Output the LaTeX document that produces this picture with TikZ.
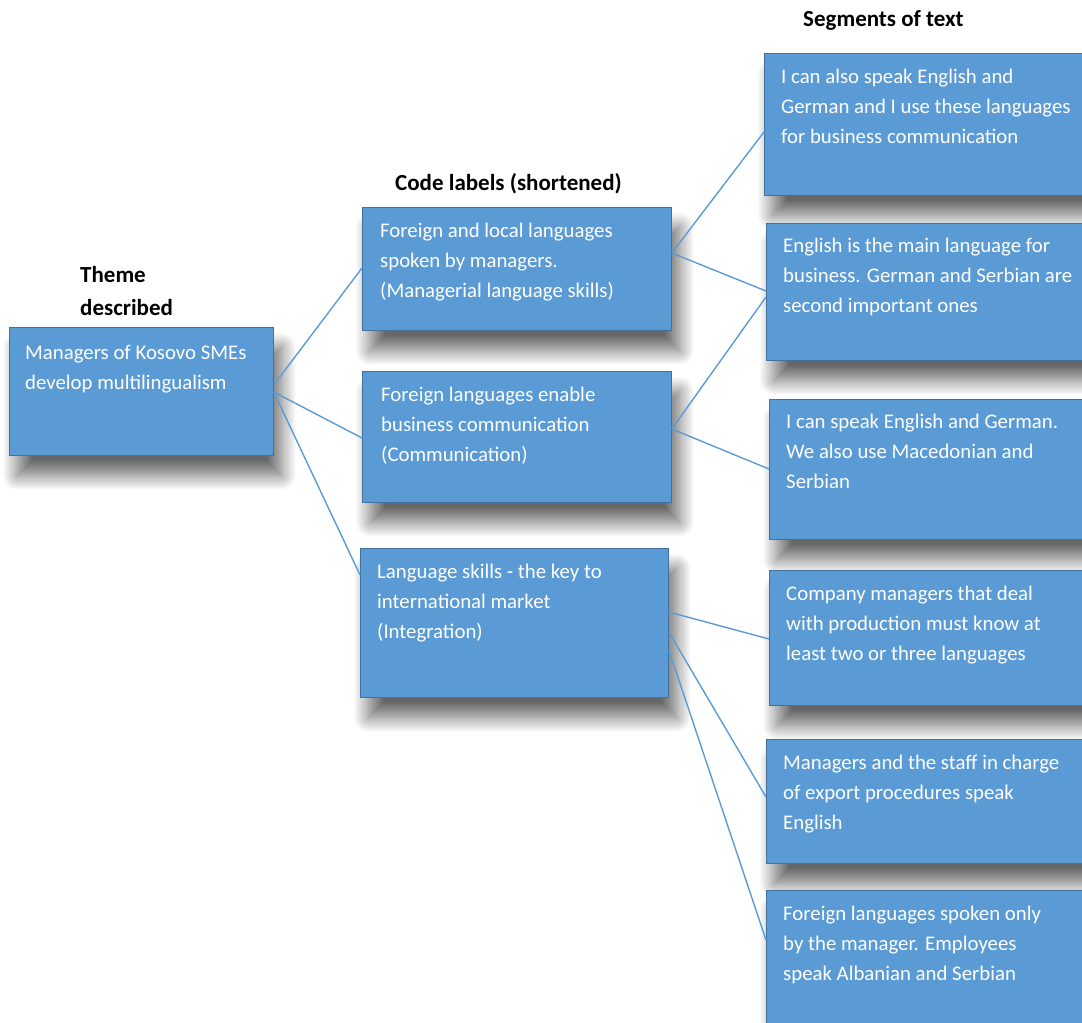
\documentclass[tikz,border=0pt]{standalone}
\usepackage{fontspec}
\setmainfont{Carlito}
\usetikzlibrary{shadows.blur}
\definecolor{boxfill}{HTML}{5B9BD5}
\definecolor{boxline}{HTML}{41719C}
\definecolor{connline}{HTML}{5B9BD5}
\begin{document}
\begin{tikzpicture}[x=1pt,y=-1pt,
  blockbox/.style={draw=boxline, line width=0.8pt, fill=boxfill, anchor=north west, inner sep=0pt,
    blur shadow={shadow xshift=8pt, shadow yshift=-20pt, shadow blur radius=15pt, shadow blur steps=30, shadow opacity=60}},
  boxtext/.style={anchor=north west, inner sep=0pt, text=white, align=left, font=\fontsize{20.8}{30}\selectfont},
  heading/.style={anchor=north west, inner sep=0pt, align=left, font=\bfseries\fontsize{23}{33}\selectfont},
  conn/.style={draw=connline, line width=1.4pt}]
\useasboundingbox (0,0) rectangle (1082,1023);

% boxes
\node[blockbox, minimum width=264pt, minimum height=128pt] (theme) at (9,327) {};
\node[blockbox, minimum width=309pt, minimum height=123pt] (code1) at (362,207) {};
\node[blockbox, minimum width=309pt, minimum height=131pt] (code2) at (362,371) {};
\node[blockbox, minimum width=308pt, minimum height=149pt] (code3) at (360,548) {};
\node[blockbox, minimum width=330pt, minimum height=142pt] (seg1) at (764,53) {};
\node[blockbox, minimum width=330pt, minimum height=137pt] (seg2) at (766,223) {};
\node[blockbox, minimum width=330pt, minimum height=140pt] (seg3) at (769,399) {};
\node[blockbox, minimum width=330pt, minimum height=135pt] (seg4) at (769,570) {};
\node[blockbox, minimum width=330pt, minimum height=124pt] (seg5) at (766,739) {};
\node[blockbox, minimum width=330pt, minimum height=150pt] (seg6) at (766,890) {};

% headings
\node[heading] (hTheme) at (80,266.5) {Theme\\described};
\node[heading] (hCode) at (395,173.5) {Code labels (shortened)};
\node[heading] (hSeg) at (803,10.5) {Segments of text};

% box texts
\node[boxtext] (themeT) at (25,345) {Managers of Kosovo SMEs\\develop multilingualism};
\node[boxtext] (code1T) at (380,223) {Foreign and local languages\\spoken by managers.\\(Managerial language skills)};
\node[boxtext] (code2T) at (381,387) {Foreign languages enable\\business communication\\(Communication)};
\node[boxtext] (code3T) at (377,564) {Language skills - the key to\\international market\\(Integration)};
\node[boxtext] (seg1T) at (781,69) {I can also speak English and\\German and I use these languages\\for business communication};
\node[boxtext] (seg2T) at (783,238) {English is the main language for\\business. German and Serbian are\\second important ones};
\node[boxtext] (seg3T) at (786,414) {I can speak English and German.\\We also use Macedonian and\\Serbian};
\node[boxtext] (seg4T) at (786,586) {Company managers that deal\\with production must know at\\least two or three languages};
\node[boxtext] (seg5T) at (783,755) {Managers and the staff in charge\\of export procedures speak\\English};
\node[boxtext] (seg6T) at (783,906) {Foreign languages spoken only\\by the manager. Employees\\speak Albanian and Serbian};

% connectors
\draw[conn] ([yshift=-58pt]theme.north east) -- ([yshift=-61pt]code1.north west);
\draw[conn] ([yshift=-65pt]theme.north east) -- ([yshift=-67pt]code2.north west);
\draw[conn] ([yshift=-65pt]theme.north east) -- ([yshift=-27pt]code3.north west);
\draw[conn] ([yshift=-46pt]code1.north east) -- ([yshift=-79pt]seg1.north west);
\draw[conn] ([yshift=-46pt]code1.north east) -- ([yshift=-68pt]seg2.north west);
\draw[conn] ([yshift=-58pt]code2.north east) -- ([yshift=-74pt]seg2.north west);
\draw[conn] ([yshift=-58pt]code2.north east) -- ([yshift=-70pt]seg3.north west);
\draw[conn] ([yshift=-64pt]code3.north east) -- ([yshift=-69pt]seg4.north west);
\draw[conn] ([yshift=-84pt]code3.north east) -- ([yshift=-58pt]seg5.north west);
\draw[conn] ([yshift=-102pt]code3.north east) -- ([yshift=-50pt]seg6.north west);
\end{tikzpicture}
\end{document}
